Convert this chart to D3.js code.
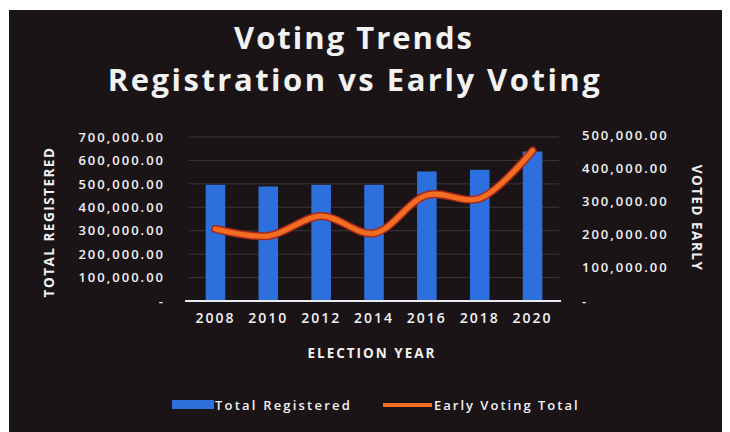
<!DOCTYPE html>
<head>
    <meta charset="utf-8">
    <style>
        body { margin: 0; background: #ffffff; }
        text { font-family: "Open Sans", sans-serif; fill: #f2f2f2; }
    </style>
    <script src="https://d3js.org/d3.v7.min.js"></script>
</head>
<body>
<div id="chart"></div>
<script>

    var years = ["2008", "2010", "2012", "2014", "2016", "2018", "2020"];
    var registered = [496000, 489000, 496000, 496000, 553000, 560000, 638000];
    var earlyVoting = [217000, 196000, 256000, 204000, 319000, 309000, 453000];
    var leftTicks = [100000, 200000, 300000, 400000, 500000, 600000, 700000];
    var rightTicks = [100000, 200000, 300000, 400000, 500000];

    var W = 730, H = 432;
    var margin = {top: 137, bottom: 131, left: 189, right: 171};
    var width = W - margin.left - margin.right,
        height = H - margin.top - margin.bottom;

    var svg = d3.select("#chart").append("svg")
        .attr("width", W)
        .attr("height", H);

    // dark panel with white scan border
    svg.append("rect")
        .attr("x", 9).attr("y", 10)
        .attr("width", 713).attr("height", 422)
        .attr("fill", "#1b1417");

    svg.append("text")
        .attr("x", 354).attr("y", 49)
        .attr("text-anchor", "middle")
        .attr("font-size", 31).attr("font-weight", 700)
        .attr("letter-spacing", 2)
        .text("Voting Trends");

    svg.append("text")
        .attr("x", 355).attr("y", 91)
        .attr("text-anchor", "middle")
        .attr("font-size", 31).attr("font-weight", 700)
        .attr("letter-spacing", 2.5)
        .text("Registration vs Early Voting");

    var focus = svg.append("g")
        .attr("transform", "translate(" + margin.left + "," + margin.top + ")");

    var x = d3.scaleBand()
        .domain(years)
        .range([0, width])
        .paddingInner(0.63)
        .paddingOuter(0.315);

    var yL = d3.scaleLinear().domain([0, 700000]).range([height, 0]);
    var yR = d3.scaleLinear().domain([0, 500000]).range([height, -2]);

    var fmt = d3.format(",.2f");

    // gridlines
    focus.append("g")
        .selectAll("line")
        .data(leftTicks)
        .join("line")
        .attr("x1", 0).attr("x2", width)
        .attr("y1", d => yL(d)).attr("y2", d => yL(d))
        .attr("stroke", "#3d3538")
        .attr("stroke-width", 1);

    // left axis
    focus.append("g")
        .attr("class", "ax")
        .attr("transform", "translate(-21,0)")
        .call(d3.axisLeft(yL).tickSize(0).tickValues([0].concat(leftTicks))
            .tickFormat(d => d == 0 ? "-" : fmt(d)));

    // right axis
    focus.append("g")
        .attr("class", "ax")
        .attr("transform", "translate(" + (width + 20) + ",0)")
        .call(d3.axisRight(yR).tickSize(0).tickValues([0].concat(rightTicks))
            .tickFormat(d => d == 0 ? "-" : fmt(d)));

    // x axis
    var xx = focus.append("g")
        .attr("class", "ax xax")
        .attr("transform", "translate(0," + (height + 9) + ")")
        .call(d3.axisBottom(x).tickSize(0));

    focus.selectAll(".ax").selectAll("path").attr("opacity", 0);
    focus.selectAll(".ax").selectAll("text")
        .attr("font-size", 13)
        .attr("font-weight", 600)
        .attr("letter-spacing", 2)
        .attr("fill", "#f0f0f0")
        .attr("font-family", "'Open Sans', sans-serif");
    xx.selectAll("text").attr("font-size", 14).attr("letter-spacing", 2);

    // bars
    focus.append("g")
        .selectAll("rect")
        .data(years)
        .join("rect")
        .attr("x", d => x(d))
        .attr("width", x.bandwidth())
        .attr("y", (d, i) => yL(registered[i]))
        .attr("height", (d, i) => height - yL(registered[i]))
        .attr("fill", "#2d6fdc");

    // baseline
    focus.append("line")
        .attr("x1", -4).attr("x2", width + 2)
        .attr("y1", height).attr("y2", height)
        .attr("stroke", "#e8eef5")
        .attr("stroke-width", 2);

    // early voting line
    var line = d3.line()
        .curve(d3.curveCatmullRom)
        .x((d, i) => x(years[i]) + x.bandwidth() / 2)
        .y(d => yR(d));

    focus.append("path")
        .datum(earlyVoting)
        .attr("fill", "none")
        .attr("stroke", "#a8281a")
        .attr("stroke-width", 8)
        .attr("stroke-linejoin", "round")
        .attr("stroke-linecap", "round")
        .attr("d", line);

    focus.append("path")
        .datum(earlyVoting)
        .attr("fill", "none")
        .attr("stroke", "#f36d22")
        .attr("stroke-width", 5)
        .attr("stroke-linejoin", "round")
        .attr("stroke-linecap", "round")
        .attr("d", line);

    // axis titles
    svg.append("text")
        .attr("transform", "translate(54,222) rotate(-90)")
        .attr("text-anchor", "middle")
        .attr("font-size", 13.5).attr("font-weight", 700)
        .attr("letter-spacing", 1.5)
        .text("TOTAL REGISTERED");

    svg.append("text")
        .attr("transform", "translate(692,218) rotate(90)")
        .attr("text-anchor", "middle")
        .attr("font-size", 13.5).attr("font-weight", 700)
        .attr("letter-spacing", 1.5)
        .text("VOTED EARLY");

    svg.append("text")
        .attr("x", 372).attr("y", 358)
        .attr("text-anchor", "middle")
        .attr("font-size", 13.5).attr("font-weight", 700)
        .attr("letter-spacing", 2)
        .text("ELECTION YEAR");

    // legend
    var legend = svg.append("g");
    legend.append("rect")
        .attr("x", 172).attr("y", 400)
        .attr("width", 42).attr("height", 9)
        .attr("fill", "#2d6fdc");
    legend.append("text")
        .attr("x", 215).attr("y", 410)
        .attr("font-size", 13).attr("font-weight", 600)
        .attr("letter-spacing", 2.2)
        .text("Total Registered");
    legend.append("line")
        .attr("x1", 383).attr("x2", 432)
        .attr("y1", 405).attr("y2", 405)
        .attr("stroke", "#f36d22")
        .attr("stroke-width", 4);
    legend.append("text")
        .attr("x", 434).attr("y", 410)
        .attr("font-size", 13).attr("font-weight", 600)
        .attr("letter-spacing", 2)
        .text("Early Voting Total");

</script>
</body>
